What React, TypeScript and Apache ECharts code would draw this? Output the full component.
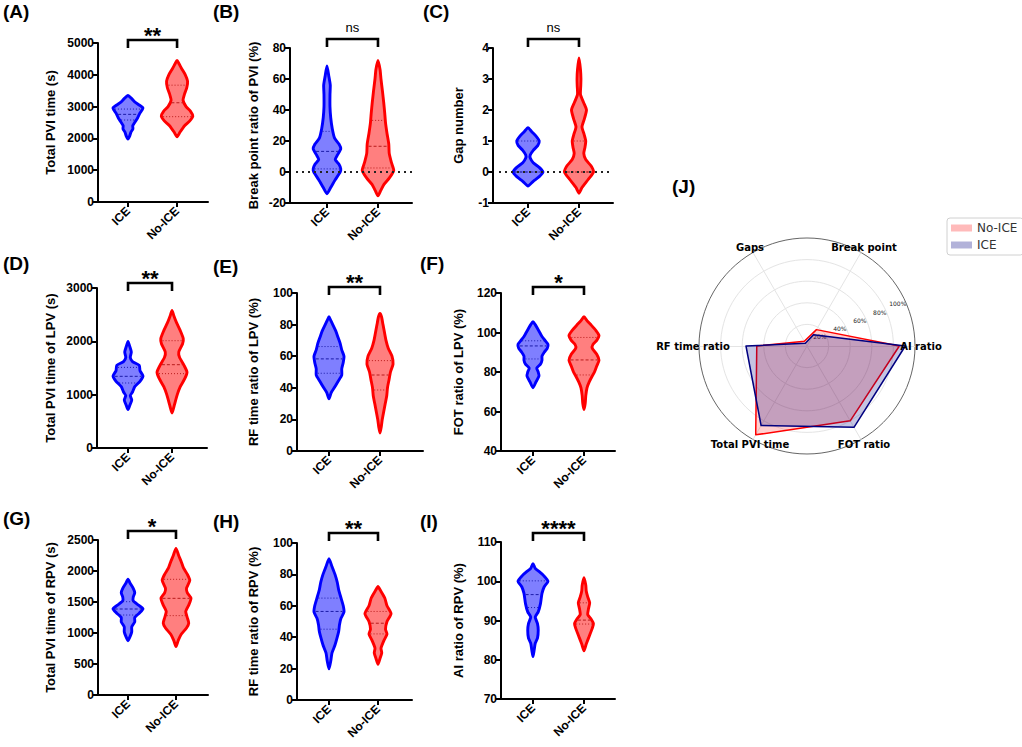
import React, { useEffect, useRef } from 'react';
import * as echarts from 'echarts';

// ---------- DATA ----------
const categories = ['ICE', 'No-ICE'];

// violin outlines: [value, relative half-width]
const aIce = [[1980, 0], [2080, 0.12], [2200, 0.2], [2300, 0.33], [2400, 0.32], [2500, 0.45], [2650, 0.65], [2800, 0.8], [2900, 0.95], [2960, 1.0], [3050, 0.75], [3150, 0.45], [3250, 0.25], [3350, 0]];
const aNoIce = [[2050, 0], [2200, 0.2], [2400, 0.5], [2550, 0.85], [2700, 1.05], [2850, 0.9], [3000, 0.6], [3200, 0.4], [3400, 0.5], [3600, 0.65], [3800, 0.7], [4000, 0.55], [4200, 0.3], [4350, 0.13], [4450, 0]];
const aIceLines = [2578, 2756, 2923];
const aNoIceLines = [2683, 3121, 3674];

const bIce = [[-14, 0], [-10, 0.25], [-5, 0.55], [0, 0.88], [2, 0.92], [5, 0.8], [8, 0.55], [11, 0.7], [15, 0.92], [18, 0.8], [22, 0.5], [28, 0.35], [35, 0.25], [42, 0.2], [50, 0.2], [56, 0.22], [62, 0.12], [68.5, 0]];
const bNoIce = [[-15.3, 0], [-12, 0.18], [-8, 0.4], [-4, 0.75], [1, 1.05], [6, 0.9], [12, 0.75], [18, 0.72], [25, 0.6], [32, 0.5], [38, 0.45], [45, 0.38], [52, 0.3], [60, 0.2], [66, 0.14], [72, 0]];
const bIceLines = [2, 13.3, 26.2];
const bNoIceLines = [2.6, 16.6, 33.3];

const cIce = [[-0.45, 0], [-0.3, 0.35], [-0.15, 0.75], [0, 1.0], [0.15, 0.75], [0.3, 0.35], [0.45, 0.15], [0.55, 0.15], [0.7, 0.35], [0.85, 0.65], [1.0, 0.75], [1.15, 0.55], [1.3, 0.25], [1.43, 0]];
const cNoIce = [[-0.68, 0], [-0.5, 0.2], [-0.25, 0.6], [0, 0.97], [0.2, 0.8], [0.4, 0.45], [0.6, 0.32], [0.8, 0.4], [1.0, 0.45], [1.2, 0.35], [1.45, 0.2], [1.7, 0.35], [2.0, 0.5], [2.25, 0.3], [2.5, 0.1], [2.8, 0.12], [3.0, 0.13], [3.3, 0.1], [3.68, 0]];
const cIceLines = [0, 0, 1];
const cNoIceLines = [0, 0, 1];

const dIce = [[720, 0], [800, 0.12], [900, 0.25], [980, 0.15], [1050, 0.3], [1150, 0.45], [1250, 0.8], [1350, 1.0], [1450, 0.8], [1550, 0.75], [1620, 0.3], [1700, 0.15], [1800, 0.22], [1900, 0.12], [2000, 0]];
const dNoIce = [[656, 0], [800, 0.15], [1000, 0.35], [1150, 0.55], [1300, 0.85], [1420, 1.0], [1550, 0.8], [1700, 0.5], [1800, 0.45], [1950, 0.7], [2050, 0.75], [2200, 0.55], [2350, 0.3], [2480, 0.12], [2580, 0]];
const dIceLines = [1219, 1344, 1512];
const dNoIceLines = [1394, 1562, 2012];

const eIce = [[33, 0], [37, 0.15], [40, 0.35], [44, 0.6], [48, 0.85], [52, 0.85], [56, 0.95], [60, 1.0], [64, 0.85], [68, 0.75], [72, 0.6], [76, 0.45], [80, 0.25], [83, 0.1], [85, 0]];
const eNoIce = [[11.4, 0], [15, 0.08], [20, 0.15], [25, 0.25], [30, 0.35], [35, 0.45], [40, 0.5], [45, 0.6], [50, 0.7], [55, 0.87], [60, 0.8], [65, 0.55], [70, 0.4], [75, 0.3], [80, 0.2], [85, 0.1], [87, 0]];
const eIceLines = [49.2, 58.3, 66.1];
const eNoIceLines = [38.6, 48.1, 57.2];

const fIce = [[72, 0], [75, 0.2], [78, 0.4], [80, 0.35], [82, 0.25], [84, 0.5], [86, 0.6], [88, 0.6], [90, 0.75], [92, 0.95], [94, 1.0], [96, 0.8], [98, 0.6], [100, 0.45], [102, 0.3], [104, 0.15], [105.5, 0]];
const fNoIce = [[61, 0], [64, 0.08], [68, 0.12], [72, 0.2], [75, 0.35], [78, 0.55], [80, 0.7], [83, 0.85], [86, 1.0], [89, 0.85], [92, 0.55], [94, 0.6], [96, 0.85], [98.5, 1.0], [101, 0.8], [104, 0.45], [106, 0.2], [108, 0]];
const fIceLines = [86.6, 93.2, 95.8];
const fNoIceLines = [78.5, 86.1, 97.5];

const gIce = [[876, 0], [950, 0.15], [1020, 0.25], [1100, 0.25], [1180, 0.45], [1250, 0.45], [1320, 0.75], [1390, 1.0], [1450, 0.7], [1520, 0.35], [1580, 0.35], [1650, 0.45], [1720, 0.35], [1800, 0.15], [1866, 0]];
const gNoIce = [[780, 0], [880, 0.15], [980, 0.35], [1080, 0.7], [1160, 0.85], [1250, 0.75], [1350, 0.65], [1450, 0.85], [1560, 1.0], [1650, 0.75], [1720, 0.7], [1850, 0.92], [1950, 0.75], [2050, 0.5], [2150, 0.35], [2250, 0.18], [2365, 0]];
const gIceLines = [1290, 1387, 1505];
const gNoIceLines = [1280, 1559, 1866];

const hIce = [[19.8, 0], [25, 0.12], [30, 0.2], [35, 0.4], [40, 0.55], [44, 0.65], [48, 0.7], [52, 0.8], [56, 1.0], [60, 0.95], [65, 0.8], [70, 0.65], [75, 0.55], [80, 0.4], [85, 0.2], [90, 0]];
const hNoIce = [[22.8, 0], [26, 0.12], [30, 0.25], [33, 0.2], [38, 0.4], [42, 0.6], [45, 0.5], [50, 0.6], [55, 0.87], [60, 0.6], [65, 0.45], [70, 0.15], [72.3, 0]];
const hIceLines = [45.1, 56.4, 64.9];
const hNoIceLines = [42.1, 48.9, 56.4];

const iIce = [[80.8, 0], [82.5, 0.08], [84.2, 0.15], [85.5, 0.3], [87.5, 0.35], [89.2, 0.3], [90.9, 0.15], [92.2, 0.35], [94.3, 0.5], [96.9, 0.6], [98.6, 0.75], [100, 1.0], [101.5, 0.7], [102.5, 0.4], [103.3, 0.15], [104.5, 0]];
const iNoIce = [[82.3, 0], [84, 0.15], [86, 0.35], [88, 0.55], [89.2, 0.63], [90.5, 0.45], [91.5, 0.25], [93, 0.3], [94.5, 0.38], [96, 0.25], [97.5, 0.15], [99, 0.12], [100.9, 0]];
const iIceLines = [93.3, 96.6, 100.1];
const iNoIceLines = [89.1, 90.1, 94.5];

const panelLetters = ['A', 'B', 'C', 'D', 'E', 'F', 'G', 'H', 'I'];
const yNames = ['Total PVI time (s)', 'Break point ratio of PVI (%)', 'Gap number', 'Total PVI time of LPV (s)', 'RF time ratio of LPV (%)', 'FOT ratio of LPV (%)', 'Total PVI time of RPV (s)', 'RF time ratio of RPV (%)', 'AI ratio of RPV (%)'];
const yMins = [0, -20, -1, 0, 0, 40, 0, 0, 70];
const yMaxs = [5000, 80, 4, 3000, 100, 120, 2500, 100, 110];
const yIntervals = [1000, 20, 1, 1000, 20, 20, 500, 20, 10];
const sigLabels = ['**', 'ns', 'ns', '**', '**', '*', '*', '**', '****'];
const refLines: (number | null)[] = [null, 0, 0, null, null, null, null, null, null];
const iceProfiles = [aIce, bIce, cIce, dIce, eIce, fIce, gIce, hIce, iIce];
const noIceProfiles = [aNoIce, bNoIce, cNoIce, dNoIce, eNoIce, fNoIce, gNoIce, hNoIce, iNoIce];
const iceLines = [aIceLines, bIceLines, cIceLines, dIceLines, eIceLines, fIceLines, gIceLines, hIceLines, iIceLines];
const noIceLines = [aNoIceLines, bNoIceLines, cNoIceLines, dNoIceLines, eNoIceLines, fNoIceLines, gNoIceLines, hNoIceLines, iNoIceLines];

const radarIndicators = ['AI ratio', 'Break point', 'Gaps', 'RF time ratio', 'Total PVI time', 'FOT ratio'];
const radarNoIce = [85.5, 17.5, 5, 46.5, 95, 80];
const radarIce = [91, 12, 3, 56.5, 85, 87];

// ---------- LAYOUT ----------
const gridBoxes = [
  [98, 43, 110, 159], [290, 48, 122, 155], [493, 48, 120, 155],
  [97, 288, 110, 160], [297, 293, 126, 158], [501, 293, 114, 158],
  [98, 540, 110, 155], [297, 543, 115, 157], [501, 542, 114, 157],
];
const xRanges = [
  [-0.61, 1.63], [-0.725, 1.667], [-0.686, 1.667],
  [-0.705, 1.795], [-0.627, 1.843], [-0.627, 1.608],
  [-0.625, 1.667], [-0.653, 1.694], [-0.627, 1.608],
];
const nameGaps = [41, 30, 28, 40, 37, 36, 41, 37, 36];
const bracketOffsets = [3, 9, 9, 5, 6, 6, 9, 10, 9];
const letterPos = [[3, 2], [213, 2], [423, 2], [3, 254], [213, 257], [420, 254], [3, 509], [213, 512], [420, 512]];
const RC = [807, 346];
const RR = 108;
const HW = 15;
const FONT = '"Liberation Sans", Arial, sans-serif';

function widthAt(profile: number[][], v: number) {
  for (let i = 0; i < profile.length - 1; i++) {
    const [v0, w0] = profile[i];
    const [v1, w1] = profile[i + 1];
    if (v >= v0 && v <= v1) return w0 + (w1 - w0) * (v - v0) / (v1 - v0);
  }
  return 0;
}

function violinRender(profile: number[][], lines: number[], stroke: string, fill: string, lineColor: string) {
  return (params: any, api: any) => {
    const cat = api.value(0);
    const right: number[][] = [];
    const left: number[][] = [];
    profile.forEach(([v, w], idx) => {
      const p = api.coord([cat, v]);
      right.push([p[0] + HW * w, p[1]]);
      if (idx > 0 && idx < profile.length - 1) left.unshift([p[0] - HW * w, p[1]]);
    });
    const children: any[] = [{
      type: 'polygon',
      shape: { points: right.concat(left), smooth: 0.2 },
      style: { fill, stroke, lineWidth: 2.9, lineJoin: 'round' },
    }];
    lines.forEach((q, i) => {
      const w = widthAt(profile, q) * HW - 1.5;
      if (w <= 0) return;
      const p = api.coord([cat, q]);
      children.push({
        type: 'line',
        shape: { x1: p[0] - w, y1: p[1], x2: p[0] + w, y2: p[1] },
        style: { stroke: lineColor, lineWidth: 1, lineDash: i === 1 ? [3, 2] : [1, 2] },
      });
    });
    return { type: 'group', children };
  };
}

function bracketRender(i: number) {
  return (params: any, api: any) => {
    const a = api.coord([0, yMaxs[i]]);
    const b = api.coord([1, yMaxs[i]]);
    const y = a[1] - bracketOffsets[i];
    const isStar = sigLabels[i] !== 'ns';
    const children: any[] = [
      {
        type: 'polyline',
        shape: { points: [[a[0], y + 8], [a[0], y], [b[0], y], [b[0], y + 8]] },
        style: { stroke: '#000', lineWidth: 2.6, fill: null },
      },
      {
        type: 'text',
        style: {
          text: sigLabels[i], x: (a[0] + b[0]) / 2, y: isStar ? y - 5 : y - 12,
          align: 'center', verticalAlign: 'middle',
          fontSize: isStar ? 22 : 13, fontWeight: isStar ? 'bold' : 'normal', fontFamily: FONT, fill: '#000',
        },
      },
    ];
    const rv = refLines[i];
    if (rv !== null) {
      const l = api.coord([xRanges[i][0], rv]);
      const r = api.coord([xRanges[i][1], rv]);
      children.push({
        type: 'line',
        shape: { x1: l[0] + 6, y1: l[1], x2: r[0], y2: r[1] },
        style: { stroke: '#222', lineWidth: 2, lineDash: [2, 4] },
      });
    }
    return { type: 'group', children };
  };
}

function buildOption() {
  const grid: any[] = [];
  const xAxis: any[] = [];
  const yAxis: any[] = [];
  const series: any[] = [];
  const title: any[] = [];
  for (let i = 0; i < 9; i++) {
    const [l, t, w, h] = gridBoxes[i];
    grid.push({ left: l, top: t, width: w, height: h, containLabel: false });
    xAxis.push({
      gridIndex: i, type: 'value', min: xRanges[i][0], max: xRanges[i][1],
      axisLine: { onZero: false, lineStyle: { color: '#000', width: 2 } },
      axisTick: { customValues: [0, 1], length: 5, lineStyle: { color: '#000', width: 2 } },
      axisLabel: {
        customValues: [0, 1], formatter: (v: number) => categories[Math.round(v)] ?? '',
        rotate: 45, margin: 7, color: '#000', fontWeight: 'bold', fontSize: 12, fontFamily: FONT,
      },
      splitLine: { show: false },
    });
    yAxis.push({
      gridIndex: i, type: 'value', min: yMins[i], max: yMaxs[i], interval: yIntervals[i],
      name: yNames[i], nameLocation: 'middle', nameGap: nameGaps[i],
      nameTextStyle: { color: '#000', fontWeight: 'bold', fontSize: 13, fontFamily: FONT },
      axisLine: { show: true, onZero: false, lineStyle: { color: '#000', width: 2 } },
      axisTick: { show: true, length: 5, lineStyle: { color: '#000', width: 2 } },
      axisLabel: { formatter: (v: number) => String(v), color: '#000', fontWeight: 'bold', fontSize: 12, fontFamily: FONT, margin: 4 },
      splitLine: { show: false },
    });
    series.push({
      type: 'custom', name: 'ICE-' + i, xAxisIndex: i, yAxisIndex: i,
      renderItem: violinRender(iceProfiles[i], iceLines[i], '#0000ff', 'rgba(0,0,255,0.5)', '#1c1ca8'),
      data: [[0, iceLines[i][1]]],
    });
    series.push({
      type: 'custom', name: 'NoICE-' + i, xAxisIndex: i, yAxisIndex: i,
      renderItem: violinRender(noIceProfiles[i], noIceLines[i], '#ff0000', 'rgba(255,0,0,0.5)', '#b81c1c'),
      data: [[1, noIceLines[i][1]]],
    });
    series.push({
      type: 'custom', name: 'sig-' + i, xAxisIndex: i, yAxisIndex: i,
      renderItem: bracketRender(i), data: [[0, yMaxs[i]]],
    });
    title.push({
      text: '(' + panelLetters[i] + ')', left: letterPos[i][0], top: letterPos[i][1], padding: 0,
      textStyle: { fontSize: 19, fontWeight: 'bold', color: '#000', fontFamily: FONT },
    });
  }
  title.push({
    text: '(J)', left: 672, top: 177, padding: 0,
    textStyle: { fontSize: 19, fontWeight: 'bold', color: '#000', fontFamily: FONT },
  });

  series.push({
    type: 'radar', radarIndex: 0, symbol: 'none', z: 3,
    data: [
      { name: 'No-ICE', value: radarNoIce, lineStyle: { color: '#ff0000', width: 1.5 }, areaStyle: { color: 'rgba(255,0,0,0.27)' }, itemStyle: { color: '#ff0000' } },
      { name: 'ICE', value: radarIce, lineStyle: { color: '#000080', width: 1.5 }, areaStyle: { color: 'rgba(0,0,128,0.33)' }, itemStyle: { color: '#000080' } },
    ],
  });

  const graphic = radarIndicators.map((n, i) => {
    const ang = (i * 60) * Math.PI / 180;
    return {
      type: 'text', z: 100,
      x: RC[0] + 114 * Math.cos(ang), y: RC[1] - 114 * Math.sin(ang),
      style: { text: n, align: 'center', verticalAlign: 'middle', fontSize: 10, fontWeight: 'bold', fontFamily: '"DejaVu Sans", sans-serif', fill: '#000' },
    };
  });

  return {
    animation: false,
    backgroundColor: '#fff',
    title,
    grid,
    xAxis,
    yAxis,
    radar: {
      center: RC, radius: RR, startAngle: 0, shape: 'circle', splitNumber: 5,
      indicator: radarIndicators.map((n) => ({ name: n, max: 100, min: 0 })),
      axisName: { show: false },
      splitLine: { lineStyle: { color: ['#e4e4e4', '#e4e4e4', '#e4e4e4', '#e4e4e4', '#e4e4e4', '#666666'], width: 1 } },
      splitArea: { show: false },
      axisLine: { lineStyle: { color: '#e4e4e4' } },
      axisTick: { show: false },
      axisLabel: { show: false },
    },
    polar: { center: RC, radius: RR },
    angleAxis: { type: 'value', min: 0, max: 360, startAngle: 22.5, show: false },
    radiusAxis: {
      type: 'value', min: 0, max: 100, interval: 20,
      axisLine: { show: false }, axisTick: { show: false }, splitLine: { show: false },
      axisLabel: { formatter: (v: number) => (v === 0 ? '' : v + '%'), fontSize: 6, color: '#222', fontFamily: '"DejaVu Sans", sans-serif', margin: 1 },
    },
    legend: {
      data: [
        { name: 'No-ICE', itemStyle: { color: 'rgba(255,0,0,0.27)', borderWidth: 0 } },
        { name: 'ICE', itemStyle: { color: 'rgba(0,0,128,0.3)', borderWidth: 0 } },
      ],
      orient: 'vertical', left: 947, top: 218, icon: 'rect', itemWidth: 21, itemHeight: 7, itemGap: 5,
      padding: [4, 6, 4, 4], borderColor: '#d0d0d0', borderWidth: 1, borderRadius: 3,
      textStyle: { fontSize: 12, color: '#333', fontFamily: '"DejaVu Sans", sans-serif' },
      selectedMode: false,
    },
    graphic,
    series,
  };
}

export default function App() {
  const ref = useRef<HTMLDivElement>(null);
  useEffect(() => {
    if (!ref.current) return;
    const chart = echarts.init(ref.current, null, { renderer: 'svg' });
    chart.setOption(buildOption() as any);
    return () => chart.dispose();
  }, []);
  return (
    <div
      ref={ref}
      style={{ position: 'absolute', left: 0, top: 0, width: 1022, height: 747, background: '#fff' }}
    />
  );
}
